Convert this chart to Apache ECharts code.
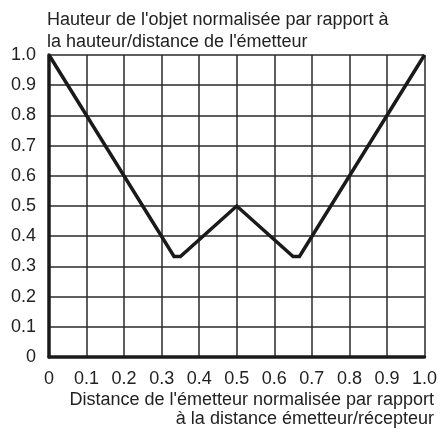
<!DOCTYPE html>
<html>
<head>
<meta charset="utf-8">
<script src="https://cdn.jsdelivr.net/npm/echarts@6/dist/echarts.min.js"></script>
<style>html,body{margin:0;padding:0;background:#fff;}#c{width:440px;height:433px;}</style>
</head>
<body>
<div id="c"></div>
<script>
const xValues = [0, 0.333, 0.35, 0.5, 0.65, 0.667, 1.0];
const yValues = [1.0, 0.333, 0.333, 0.5, 0.333, 0.333, 1.0];
const tickLabels = ['0', '0.1', '0.2', '0.3', '0.4', '0.5', '0.6', '0.7', '0.8', '0.9', '1.0'];
const yTitle = "Hauteur de l'objet normalisée par rapport à\nla hauteur/distance de l'émetteur";
const xTitleLines = ["Distance de l'émetteur normalisée par rapport", "à la distance émetteur/récepteur"];

const chart = echarts.init(document.getElementById('c'), null, {renderer: 'canvas'});
const font = 'Liberation Sans';
const fmt = v => tickLabels[Math.round(v * 10)];
const nameStyle = {fontFamily: font, fontSize: 18, fontWeight: 'normal', color: '#222', lineHeight: 18};
chart.setOption({
  animation: false,
  backgroundColor: '#fff',
  textStyle: {fontFamily: font},
  title: [
    {text: yTitle, left: 42, top: 4, textStyle: {fontFamily: font, fontSize: 18, fontWeight: 'normal', color: '#222', lineHeight: 22}},
    {text: xTitleLines[0], right: 1, top: 386, textStyle: nameStyle},
    {text: xTitleLines[1], right: 1, top: 405, textStyle: nameStyle}
  ],
  grid: {left: 49, right: 14, top: 55, bottom: 76, containLabel: false},
  xAxis: {
    type: 'value', min: 0, max: 1, interval: 0.1,
    axisLine: {show: true, onZero: false, lineStyle: {color: '#1a1a1a', width: 3.5}},
    axisTick: {show: false},
    axisLabel: {formatter: fmt, fontSize: 18, color: '#222', margin: 13, fontFamily: font},
    splitLine: {show: true, lineStyle: {color: '#2a2a2a', width: 1.5}}
  },
  yAxis: {
    type: 'value', min: 0, max: 1, interval: 0.1,
    axisLine: {show: true, onZero: false, lineStyle: {color: '#1a1a1a', width: 3.5}},
    axisTick: {show: false},
    axisLabel: {formatter: fmt, fontSize: 18, color: '#222', margin: 13, fontFamily: font},
    splitLine: {show: true, lineStyle: {color: '#2a2a2a', width: 1.5}}
  },
  series: [{
    type: 'line',
    data: xValues.map((x, i) => [x, yValues[i]]),
    symbol: 'none',
    lineStyle: {color: '#1a1a1a', width: 3.5, join: 'miter'},
    clip: false
  }]
});
</script>
</body>
</html>
